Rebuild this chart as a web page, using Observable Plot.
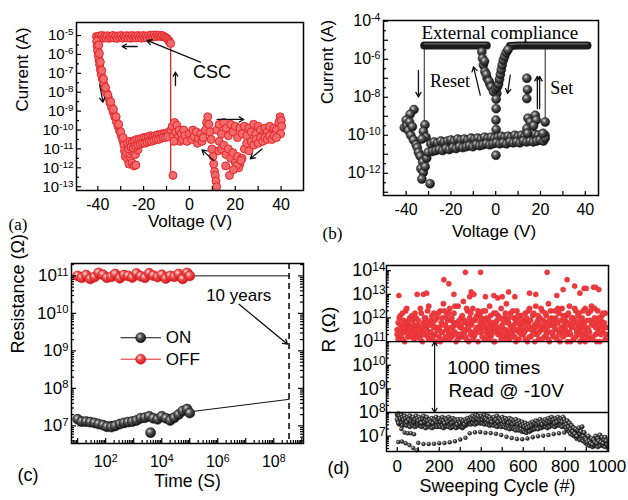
<!DOCTYPE html>
<html><head><meta charset="utf-8">
<script src="https://cdn.jsdelivr.net/npm/d3@7"></script>
<script src="https://cdn.jsdelivr.net/npm/@observablehq/plot@0.6"></script>
<style>
body{margin:0;background:#fff;}
#wrap{position:relative;width:628px;height:500px;background:#fff;overflow:hidden;}
</style></head><body>
<svg width="0" height="0" style="position:absolute"><defs>
<radialGradient id="sphK" cx="0.38" cy="0.34" r="0.66"><stop offset="0" stop-color="#d9d9d9"/><stop offset="0.38" stop-color="#5a5a5a"/><stop offset="1" stop-color="#101010"/></radialGradient>
<radialGradient id="sphR" cx="0.38" cy="0.34" r="0.66"><stop offset="0" stop-color="#ffe2e2"/><stop offset="0.42" stop-color="#f04a4a"/><stop offset="1" stop-color="#d3161b"/></radialGradient>
</defs></svg>
<div id="wrap"></div>
<script>
const FONT = '"Liberation Sans", Arial, Helvetica, sans-serif';
const SERIF = '"Liberation Serif", "Times New Roman", Times, serif';
const RED = "#e3262b";

// ---------------- Panel (a): I-V, [voltage, log10(current)] ----------------
const aXLabels = [-40, -20, 0, 20, 40];
const aXTicks = [-40, -30, -20, -10, 0, 10, 20, 30, 40];
const aYLabels = [1e-13, 1e-12, 1e-11, 1e-10, 1e-9, 1e-8, 1e-7, 1e-6, 1e-5];
const aPoints = [
[-40.6,-5.05],[-40.0,-5.15],[-39.4,-5.02],[-38.8,-5.12],[-38.2,-5.0],[-37.6,-5.14],[-37.0,-5.03],[-36.4,-5.13],[-35.8,-5.01],[-35.2,-5.15],[-34.6,-5.04],[-34.0,-5.12],[-33.4,-5.0],[-32.8,-5.13],[-32.2,-5.03],[-31.6,-5.15],[-31.0,-5.02],[-30.4,-5.12],[-29.8,-5.0],[-29.2,-5.14],[-28.6,-5.03],[-28.0,-5.12],[-27.4,-5.01],[-26.8,-5.13],[-26.2,-5.02],[-25.6,-5.14],[-25.0,-5.0],[-24.4,-5.12],[-23.8,-5.03],[-23.2,-5.13],[-22.6,-5.0],[-22.0,-5.12],[-21.4,-5.02],[-20.8,-5.14],[-20.2,-5.0],[-19.6,-5.11],[-19.0,-5.02],[-18.4,-5.13],[-17.8,-5.0],[-17.2,-5.1],[-16.6,-4.98],[-16.0,-5.08],[-15.4,-4.97],[-14.8,-5.06],[-14.2,-4.97],[-13.6,-5.04],[-13.0,-4.98],[-12.4,-5.05],[-11.8,-5.0],[-11.2,-5.06],[-10.6,-5.08],[-10.0,-5.14],[-9.5,-5.2],[-9.0,-5.27],[-8.6,-5.35],[-8.2,-5.42],
[-40.5,-5.3],[-40.3,-5.55],[-40.1,-5.8],[-39.8,-6.05],[-39.5,-6.3],[-39.2,-6.55],[-38.9,-6.8],[-38.5,-7.05],[-38.0,-7.3],[-37.4,-7.55],[-36.8,-7.8],[-36.1,-8.05],[-35.4,-8.3],[-34.7,-8.55],[-34.0,-8.8],[-33.3,-9.05],[-32.6,-9.3],[-31.9,-9.55],[-31.2,-9.8],[-30.5,-10.05],[-29.8,-10.3],[-29.1,-10.55],
[-39.6,-5.5],[-39.3,-5.95],[-38.9,-6.4],[-38.3,-6.85],[-37.5,-7.3],[-36.6,-7.75],[-35.6,-8.15],[-34.4,-8.5],[-33.2,-8.9],[-32.0,-9.3],[-30.9,-9.7],[-30.0,-10.1],[-28.9,-10.4],
[-28.6,-10.8],[-28.3,-11.1],[-28.0,-11.4],[-27.4,-11.2],[-27.0,-11.55],[-26.4,-11.8],[-25.8,-11.45],[-25.0,-11.75],[-24.2,-11.9],[-23.4,-11.85],[-26.0,-11.25],[-24.8,-11.15],[-23.6,-11.3],[-22.5,-11.05],
[-27,-10.7],[-26,-10.6],[-25,-10.65],[-24,-10.55],[-23,-10.5],[-22,-10.5],[-21,-10.45],[-20,-10.4],[-19,-10.4],[-18,-10.35],[-17,-10.3],[-16,-10.35],[-15,-10.3],[-14,-10.25],[-13,-10.25],[-12,-10.2],[-11,-10.2],[-10,-10.15],[-9,-10.15],
[-26.5,-11.0],[-25.5,-10.9],[-24.5,-10.95],[-23.5,-10.85],[-22.5,-10.8],[-21.5,-10.75],[-20.5,-10.7],[-19.5,-10.7],[-18.5,-10.65],[-17.5,-10.6],[-16.5,-10.6],[-15.5,-10.55],[-14.5,-10.5],[-13.5,-10.5],[-12.5,-10.45],[-11.5,-10.4],[-10.5,-10.4],[-9.5,-10.35],
[-8,-10.0],[-7.5,-9.8],[-7,-10.3],[-6.5,-9.6],[-6,-10.1],[-5.5,-9.75],[-5,-10.4],[-4.5,-10.0],[-4,-10.6],[-3.5,-10.2],[-3,-10.5],[-2.5,-10.0],[-2,-10.3],[-1,-10.6],[0,-10.2],[1,-10.5],[1.5,-10.0],[2,-10.35],[3,-10.1],[3.5,-10.7],[4,-10.45],[5,-10.2],[5.5,-10.6],[6,-10.4],[7,-10.0],[7.5,-9.6],[8,-9.3],[8.5,-9.7],[9,-10.1],[9.5,-10.5],[-6.8,-10.6],
[9.8,-11.0],[10.3,-11.4],[10.6,-11.8],[11.0,-12.2],[11.3,-12.4],[11.6,-12.7],[11.9,-13.0],[12.8,-11.1],
[12,-10.0],[13,-9.7],[14,-10.2],[15,-9.6],[16,-9.9],[17,-10.3],[18,-9.7],[19,-10.1],[20,-9.8],[21,-10.4],[22,-9.9],[23,-10.2],[24,-9.8],[25,-10.3],[26,-9.9],[27,-10.1],[28,-9.7],[29,-10.2],[30,-9.8],[31,-10.0],[32,-10.3],[33,-9.9],[34,-10.1],[35,-9.8],[36,-10.2],[37,-9.9],[38,-10.0],[39,-9.6],[39.6,-9.3],[40.1,-9.5],[40.3,-9.8],[39.8,-10.2],
[13,-10.6],[14,-11.0],[15,-10.8],[16,-11.3],[17,-11.0],[18,-11.5],[19,-11.2],[20,-11.7],[21,-11.4],[22,-11.8],[23,-11.5],[21.5,-12.0],[20.5,-11.9],[22.5,-11.6],[24,-11.0],[25,-10.7],[26,-11.1],[27,-10.6],[28,-10.8],[29,-10.5],[30,-10.7],[31,-10.4],[32,-10.6],[33,-10.4],[34,-10.5],[35,-10.3],[36,-10.5],[37,-10.3],[38,-10.4],
[17.5,-12.4],[15.8,-11.9],[19.2,-12.1],
[-7.2,-12.4]
];
const aSwitchLine = [[-8.2, -5.45, -12.3]];           // [V, log I top, log I bottom]
const aArrows = [                                      // [x1, logy1, x2, logy2]
[4.8,-6.41,-18.5,-5.26],
[-22.8,-5.58,-29.4,-5.58],
[-6.1,-7.65,-6.1,-6.94],
[-39.2,-7.61,-37.7,-8.53],
[12.1,-9.44,23.7,-9.44],
[10.6,-11.61,5.5,-11.05],
[31.7,-11.0,26.6,-11.52]
];
const aLabels = [{x: 9.9, y: -6.94, t: "CSC"}];

// ---------------- Panel (b): I-V, [voltage, log10(current)] ----------------
const bXLabels = [-40, -20, 0, 20, 40];
const bXTicks = [-40, -30, -20, -10, 0, 10, 20, 30, 40];
const bYLabels = [1e-12, 1e-10, 1e-8, 1e-6, 1e-4];
const bCompLeft = [[-31.9,-5.27],[-26,-5.27],[-20,-5.27],[-14,-5.27],[-8,-5.27],[-4.0,-5.27]];
const bCompRight = [[6.4,-5.3],[10,-5.27],[16,-5.27],[22,-5.27],[28,-5.27],[34,-5.27],[41,-5.27]];
const bPoints = [
[-6.2,-5.6],[-5.9,-5.95],[-5.5,-6.3],[-4.8,-6.65],[-3.8,-7.0],[-2.6,-7.3],[-1.4,-7.5],[-0.4,-7.65],[0.5,-7.8],[-5.0,-6.1],[-4.2,-6.8],[-3.0,-7.15],[-2.0,-7.45],[-1.0,-7.7],
[0.0,-7.55],[0.8,-7.45],[1.3,-7.3],[1.7,-7.05],[2.1,-6.8],[2.5,-6.55],[2.9,-6.3],[3.4,-6.05],[4.0,-5.85],[4.7,-5.65],[5.5,-5.5],
[0.2,-8.1],[0.2,-8.6],[0.1,-9.2],[0.2,-9.7],[0.2,-10.35],[0.1,-11.05],
[-36.5,-8.65],[-38.2,-8.9],[-40.0,-9.2],[-40.8,-9.6],[-39.7,-9.5],[-39.0,-9.75],[-37.9,-10.0],[-36.7,-10.25],[-35.5,-10.5],[-38.5,-9.3],[-37.2,-9.55],
[-35.0,-10.65],[-34.5,-10.9],[-33.7,-11.1],[-32.6,-11.4],[-33.4,-11.75],[-32.3,-11.95],[-33.0,-12.3],[-29.3,-12.55],[-31.5,-11.65],[-30.8,-11.2],[-30.2,-10.9],
[-31.6,-9.45],[-32.3,-9.8],[-31.1,-10.1],[-33.0,-10.2],
[-29,-10.45],[-27.5,-10.35],[-26,-10.4],[-24.5,-10.3],[-23,-10.35],[-21.5,-10.3],[-20,-10.25],[-18.5,-10.3],[-17,-10.2],[-15.5,-10.25],[-14,-10.2],[-12.5,-10.25],[-11,-10.15],[-9.5,-10.2],[-8,-10.15],[-6.5,-10.2],[-5,-10.1],[-3.5,-10.15],[-2,-10.1],[-0.5,-10.15],[1,-10.1],[2.5,-10.05],[4,-10.1],[5.5,-10.05],[7,-10.1],[8.5,-10.0],[10,-10.05],[11.5,-10.0],[13,-10.05],[14.5,-10.0],[16,-10.05],[17.5,-9.95],[19,-10.0],[20.5,-10.05],[22,-10.0],
[-28.2,-10.85],[-26.7,-10.8],[-25.2,-10.75],[-23.7,-10.8],[-22.2,-10.7],[-20.7,-10.75],[-19.2,-10.65],[-17.7,-10.7],[-16.2,-10.6],[-14.7,-10.65],[-13.2,-10.6],[-11.7,-10.55],[-10.2,-10.6],[-8.7,-10.5],[-7.2,-10.55],[-5.7,-10.5],[-4.2,-10.45],[-2.7,-10.5],[-1.2,-10.45],[0.3,-10.4],[1.8,-10.45],[3.3,-10.4],[4.8,-10.45],[6.3,-10.35],[7.8,-10.4],[9.3,-10.35],[10.8,-10.4],[12.3,-10.3],[13.8,-10.35],[15.3,-10.3],[16.8,-10.35],[18.3,-10.3],[19.8,-10.25],[21.3,-10.3],
[13.9,-7.0],[14.2,-7.6],[13.9,-8.07],[14.4,-9.1],[15.4,-9.3],[13.9,-9.65],[17.7,-8.95],[18.1,-9.2],[16.9,-9.5],[22.1,-9.3],[22.1,-10.15],[21.1,-9.9],[14.2,-9.9]
];
const bLines = [[-31.9, -5.27, -9.4], [22.1, -5.27, -9.2]];
const bArrows = [
[-34.5,-6.58,-34.5,-7.98],
[-6.9,-7.89,-9.9,-6.4],
[6.5,-6.84,5.3,-7.8],
[18.6,-8.6,18.6,-6.9],
[19.6,-8.6,19.6,-6.9]
];
const bTitle = [{x: 1.8, y: -4.61, t: "External compliance"}];
const bLabels = [{x: -29.3, y: -7.16, t: "Reset"}, {x: 24.4, y: -7.54, t: "Set"}];

// ---------------- Panel (c): retention, time (s) vs resistance (ohm) ----------------
const cTimes = [10,14,20,28,40,56,80,110,160,220,320,450,630,890,1260,1780,2500,3550,5000,7100,10000,14000,20000,28000,40000,56000,80000,100000];
const cOff = [1.0e11,8.9e10,1.05e11,8.3e10,9.3e10,1.2e11,1.07e11,8.9e10,9.5e10,1.12e11,8.7e10,1.05e11,1.0e11,9.1e10,1.15e11,9.8e10,8.9e10,1.17e11,1.02e11,9.3e10,1.07e11,8.5e10,1.0e11,9.5e10,1.12e11,8.3e10,1.2e11,1.0e11];
const cOn = [1.5e7,1.3e7,1.3e7,1.26e7,1.2e7,1.12e7,1.05e7,9.5e6,9.3e6,1.0e7,1.12e7,1.2e7,1.26e7,1.3e7,1.4e7,1.6e7,1.65e7,1.8e7,1.6e7,1.5e7,1.8e7,1.6e7,1.4e7,1.65e7,2.0e7,2.5e7,2.8e7,2.2e7];
const cOnOutlier = [[4000, 6.6e6]];
const cOffFit = [[10, 1.0e11], [3.5e8, 1.0e11]];
const cOnFit = [[10, 1.0e7], [3.5e8, 5.1e7]];
const cTenYears = 3.5e8;
const cXLabels = [1e2, 1e4, 1e6, 1e8];
const cYLabels = [1e7, 1e8, 1e9, 1e10, 1e11];

// ---------------- Panel (d): endurance, cycle vs log10(R) ----------------
const dCycles = [0,5,10,15,20,25,30,35,40,45,50,55,60,65,70,75,80,85,90,95,
100,105,110,115,120,125,130,135,140,145,150,155,160,165,170,175,180,185,190,195,
200,205,210,215,220,225,230,235,240,245,250,255,260,265,270,275,280,285,290,295,
300,305,310,315,320,325,330,335,340,345,350,355,360,365,370,375,380,385,390,395,
400,405,410,415,420,425,430,435,440,445,450,455,460,465,470,475,480,485,490,495,
500,505,510,515,520,525,530,535,540,545,550,555,560,565,570,575,580,585,590,595,
600,605,610,615,620,625,630,635,640,645,650,655,660,665,670,675,680,685,690,695,
700,705,710,715,720,725,730,735,740,745,750,755,760,765,770,775,780,785,790,795,
800,805,810,815,820,825,830,835,840,845,850,855,860,865,870,875,880,885,890,895,
900,905,910,915,920,925,930,935,940,945,950,955,960,965,970,975,980,985,990,995];
const dOffA = [11.3,11.8,11.2,12.1,11.5,11.1,11.9,11.4,12.3,11.6,11.2,11.7,12.0,11.3,11.5,11.9,11.1,12.2,11.6,11.4,
11.7,11.2,12.4,11.5,11.0,11.8,11.3,12.0,11.6,11.2,12.5,11.4,11.9,11.1,11.7,12.2,11.3,11.6,12.0,11.5,
11.2,12.3,11.8,11.4,12.6,11.1,11.7,12.1,11.5,11.3,12.4,11.9,11.2,11.6,12.2,11.4,11.0,11.8,12.5,11.3,
11.6,12.0,11.2,12.7,11.4,11.8,11.1,12.3,11.5,12.0,11.3,11.7,12.4,11.2,11.9,11.5,12.1,11.0,11.6,12.2,
11.4,11.8,12.3,11.1,11.6,12.0,11.3,11.9,12.5,11.2,11.7,11.5,12.2,11.0,11.8,11.4,12.1,11.6,11.3,12.4,
11.7,11.2,12.0,11.5,12.6,11.3,11.8,11.1,12.2,11.6,11.4,12.0,11.2,11.9,12.3,11.5,11.1,11.7,12.1,11.4,
11.3,11.9,12.2,11.5,11.0,11.8,12.4,11.2,11.6,12.1,11.4,11.7,12.5,11.3,11.9,11.1,12.0,11.5,12.3,11.6,
11.2,11.8,12.1,11.4,12.6,11.0,11.7,12.0,11.3,11.9,12.3,11.5,11.1,11.8,12.2,11.4,11.6,12.4,11.2,11.7,
11.5,12.1,11.0,11.8,12.5,11.3,11.6,12.0,11.1,11.9,12.3,11.4,11.7,12.2,11.0,11.5,12.0,11.3,11.8,12.4,
11.6,11.2,12.2,11.4,11.9,12.5,11.1,11.7,12.0,11.3,11.8,12.3,11.5,11.0,11.9,12.1,11.4,11.6,12.2,11.3];
const dOffB = [11.5,11.1,12.0,11.7,11.3,12.2,11.6,11.0,11.8,12.4,11.4,11.9,11.2,11.6,12.1,11.3,11.7,11.5,12.0,11.2,
11.9,11.4,11.1,12.2,11.6,11.3,12.0,11.5,11.8,12.3,11.1,11.7,11.4,12.1,11.2,11.6,11.9,11.0,11.5,12.2,
11.6,11.0,11.4,12.0,11.7,12.3,11.2,11.5,11.9,12.2,11.1,11.6,12.0,11.4,11.8,12.5,11.3,11.7,11.1,11.9,
11.3,11.7,12.1,11.5,11.9,11.2,12.4,11.6,11.0,11.8,12.2,11.4,11.1,11.9,11.3,12.0,11.6,12.3,11.4,11.8,
12.0,11.2,11.6,11.9,12.3,11.4,11.7,11.1,11.5,12.1,11.3,11.8,11.0,11.6,12.2,11.9,11.3,11.5,12.0,11.1,
11.3,11.9,11.5,12.2,11.1,11.8,12.0,11.4,11.6,11.2,12.3,11.7,11.5,11.0,11.8,12.1,11.4,11.9,11.3,11.6,
11.8,11.4,11.1,12.0,11.7,12.3,11.2,11.9,11.5,11.3,12.2,11.0,11.6,11.8,12.1,11.4,11.7,12.4,11.1,11.9,
11.5,12.2,11.3,11.6,11.1,11.9,12.3,11.4,11.7,11.2,11.6,12.0,11.8,12.4,11.3,11.0,11.9,11.5,12.1,11.4,
11.9,11.3,11.7,12.2,11.4,11.0,12.0,11.6,11.8,12.4,11.2,11.5,12.1,11.3,11.9,11.7,11.1,12.3,11.6,11.0,
11.4,11.9,11.5,11.1,12.3,11.7,11.2,11.8,12.4,11.6,11.0,11.4,12.0,11.7,11.3,11.5,12.2,11.8,11.1,11.6];
const dOffOutCycle = [8,95,125,140,222,246,270,325,345,352,365,397,420,460,478,500,530,560,630,660,714,760,790,809,845,870,890,900,935,945,960];
const dOffOutR = [12.95,13.0,13.0,13.05,13.62,13.45,13.0,13.93,12.9,13.1,13.0,13.93,12.9,12.95,12.85,12.9,13.1,12.9,13.05,13.0,13.93,12.95,13.2,13.62,13.35,13.05,13.25,13.25,13.3,13.3,13.2];
const dOnA = [7.9,7.95,7.85,7.75,7.9,7.8,7.7,7.85,7.75,7.6,7.8,7.7,7.85,7.65,7.75,7.8,7.6,7.7,7.85,7.75,
7.65,7.8,7.7,7.55,7.75,7.85,7.6,7.7,7.8,7.65,7.5,7.7,7.6,7.75,7.55,7.7,7.65,7.8,7.6,7.7,
7.75,7.6,7.7,7.8,7.65,7.55,7.75,7.7,7.6,7.8,7.65,7.7,7.55,7.75,7.6,7.7,7.65,7.5,7.7,7.6,
7.55,7.7,7.6,7.65,7.5,7.7,7.6,7.75,7.65,7.7,7.8,7.75,7.85,7.7,7.8,7.9,7.75,7.85,7.7,7.8,
7.85,7.7,7.8,7.9,7.75,7.7,7.85,7.65,7.8,7.7,7.6,7.75,7.8,7.65,7.7,7.85,7.6,7.75,7.7,7.65,
7.8,7.7,7.6,7.75,7.65,7.7,7.55,7.75,7.6,7.7,7.5,7.65,7.55,7.7,7.6,7.5,7.65,7.55,7.45,7.6,
7.5,7.4,7.55,7.45,7.35,7.5,7.4,7.55,7.45,7.6,7.5,7.55,7.65,7.5,7.6,7.55,7.7,7.6,7.5,7.65,
7.6,7.7,7.55,7.65,7.75,7.6,7.7,7.8,7.65,7.7,7.55,7.75,7.6,7.8,7.7,7.65,7.75,7.6,7.8,7.7,
7.6,7.5,7.65,7.4,7.55,7.3,7.45,7.2,7.35,7.1,7.3,7.0,7.25,7.35,7.1,7.2,7.4,7.0,7.15,6.9,
6.85,6.75,7.0,6.8,6.7,6.9,6.65,6.85,6.75,7.0,6.7,6.9,6.8,7.05,6.75,6.95,6.7,6.85,6.95,6.8];
const dOnB = [7.7,7.6,7.5,7.65,7.55,7.45,7.6,7.5,7.55,7.45,7.6,7.5,7.4,7.55,7.5,7.45,7.55,7.4,7.5,7.55,
7.45,7.5,7.55,7.4,7.5,7.45,7.55,7.35,7.5,7.45,7.4,7.5,7.45,7.35,7.5,7.4,7.55,7.45,7.4,7.5,
7.45,7.4,7.5,7.45,7.35,7.5,7.4,7.45,7.55,7.4,7.5,7.35,7.45,7.4,7.5,7.45,7.35,7.5,7.4,7.45,
7.4,7.45,7.35,7.4,7.5,7.45,7.55,7.5,7.6,7.55,7.5,7.6,7.55,7.65,7.5,7.6,7.55,7.65,7.6,7.55,
7.6,7.55,7.65,7.5,7.6,7.55,7.5,7.6,7.45,7.55,7.5,7.6,7.45,7.55,7.5,7.4,7.55,7.45,7.5,7.4,
7.5,7.45,7.4,7.5,7.35,7.45,7.4,7.3,7.45,7.35,7.4,7.3,7.35,7.25,7.4,7.3,7.25,7.35,7.3,7.2,
7.25,7.2,7.3,7.15,7.25,7.3,7.2,7.35,7.25,7.3,7.35,7.3,7.4,7.35,7.3,7.45,7.4,7.35,7.45,7.4,
7.45,7.4,7.5,7.35,7.45,7.4,7.5,7.55,7.45,7.5,7.4,7.5,7.45,7.55,7.5,7.45,7.5,7.4,7.55,7.45,
7.4,7.35,7.25,7.3,7.2,7.1,7.25,7.05,7.15,7.0,7.1,6.9,7.05,6.95,6.85,7.0,6.9,6.8,6.95,6.75,
6.7,6.65,6.8,6.6,6.75,6.65,6.55,6.7,6.6,6.8,6.65,6.55,6.7,6.6,6.75,6.65,6.6,6.7,6.55,6.65];
const dTrackCycle = [5,20,35,50,65,80,
5,22,40,58,76,94,
100,125,150,175,200,225,250,275,300,325,
345,370,395,420,445,470,495,520,545,570,595,620,645,670,695,720,745,770,795];
const dTrackR = [7.55,7.3,7.15,7.12,7.12,7.08,
6.75,6.77,6.7,6.62,6.5,6.4,
6.72,6.67,6.67,6.68,6.7,6.71,6.74,6.78,6.86,6.93,
7.12,7.16,7.18,7.14,7.13,7.1,7.05,6.97,6.92,6.88,6.87,6.9,6.95,6.99,7.02,7.05,7.09,7.12,7.15];
const dWindow = [1e8, 1e11];
const dXLabels = [0, 200, 400, 600, 800, 1000];
const dYLabels = [1e7, 1e8, 1e9, 1e10, 1e11, 1e12, 1e13, 1e14];

// ---------------- helpers ----------------
const pow10 = d => "10^" + Math.round(Math.log10(d));
function decades(lo, hi) { const r = []; for (let n = lo; n <= hi; n++) r.push(10 ** n); return r; }
function halfDecades(lo, hi) { const r = []; for (let n = lo; n < hi; n++) r.push(10 ** (n + 0.5)); return r; }
function logMinors(lo, hi, min, max) { const r = []; for (let n = lo; n <= hi; n++) for (let k = 2; k <= 9; k++) { const v = k * 10 ** n; if (v > min && v < max) r.push(v); } return r; }
function supify(svg) {
  svg.querySelectorAll("text").forEach(t => {
    const m = /^10\^(-?\d+)$/.exec(t.textContent.trim());
    if (!m) return;
    const target = t.querySelector("tspan") || t;
    while (target.firstChild) target.removeChild(target.firstChild);
    target.appendChild(document.createTextNode("10"));
    const s = document.createElementNS("http://www.w3.org/2000/svg", "tspan");
    s.setAttribute("dy", "-0.5em");
    s.setAttribute("font-size", "66%");
    s.textContent = m[1];
    target.appendChild(s);
  });
}
const wrap = document.getElementById("wrap");
function place(svg, left, top) {
  svg.style.position = "absolute";
  svg.style.left = left + "px";
  svg.style.top = top + "px";
  supify(svg);
  wrap.appendChild(svg);
}
const baseStyle = {fontFamily: FONT, background: "transparent", color: "black", overflow: "visible"};
const tk = {stroke: "black", strokeWidth: 1.2};

// ---------------- Panel (a) ----------------
{
  const W = 314, H = 245, mL = 76, mR = 11, mT = 22, mB = 55;
  const fw = W - mL - mR, fh = H - mT - mB;
  const svg = Plot.plot({
    width: W, height: H, marginLeft: mL, marginRight: mR, marginTop: mT, marginBottom: mB,
    style: baseStyle,
    x: {domain: [-49.3, 49.8]},
    y: {type: "log", domain: [10 ** -13.2, 10 ** -4.31]},
    marks: [
      Plot.ruleX(aSwitchLine, {x: d => d[0], y1: d => 10 ** d[1], y2: d => 10 ** d[2], stroke: RED, strokeWidth: 1.3}),
      Plot.dot(aPoints, {x: d => d[0], y: d => 10 ** d[1], r: 4, fill: "#f26a6a", stroke: RED, strokeWidth: 1}),
      Plot.arrow(aArrows, {x1: d => d[0], y1: d => 10 ** d[1], x2: d => d[2], y2: d => 10 ** d[3], stroke: "#111", strokeWidth: 1.3, headLength: 6}),
      Plot.text(aLabels, {x: "x", y: d => 10 ** d.y, text: "t", fontSize: 18}),
      Plot.frame({stroke: "black", strokeWidth: 1.5}),
      Plot.tickX(aXTicks, {x: d => d, insetTop: fh - 4, ...tk}),
      Plot.tickY(decades(-13, -5), {y: d => d, insetRight: fw - 5, ...tk}),
      Plot.tickY(halfDecades(-13, -5), {y: d => d, insetRight: fw - 3, ...tk}),
      Plot.axisX(aXLabels, {tickSize: 0, tickPadding: 8, tickFormat: d => String(d), fontSize: 16, label: null}),
      Plot.axisY(aYLabels, {tickSize: 0, tickPadding: 3, tickFormat: pow10, fontSize: 15, label: null}),
      Plot.text(["Voltage (V)"], {frameAnchor: "bottom", dy: 36, text: d => d, fontSize: 17}),
      Plot.text(["Current (A)"], {frameAnchor: "left", dx: -54, dy: 5, rotate: -90, text: d => d, fontSize: 17}),
      Plot.text(["(a)"], {frameAnchor: "bottom-left", dx: -68, dy: 39, textAnchor: "start", text: d => d, fontFamily: SERIF, fontSize: 17})
    ]
  });
  place(svg, 0, 0);
}

// ---------------- Panel (b) ----------------
{
  const W = 314, H = 245, mL = 69, mR = 30, mT = 20, mB = 50;
  const fw = W - mL - mR, fh = H - mT - mB;
  const svg = Plot.plot({
    width: W, height: H, marginLeft: mL, marginRight: mR, marginTop: mT, marginBottom: mB,
    style: baseStyle,
    x: {domain: [-50.1, 45.9]},
    y: {type: "log", domain: [10 ** -13.17, 10 ** -3.96]},
    marks: [
      Plot.ruleX(bLines, {x: d => d[0], y1: d => 10 ** d[1], y2: d => 10 ** d[2], stroke: "#222", strokeWidth: 1}),
      Plot.line(bCompLeft, {x: d => d[0], y: d => 10 ** d[1], stroke: "#1b1b1b", strokeWidth: 8, strokeLinecap: "round"}),
      Plot.line(bCompRight, {x: d => d[0], y: d => 10 ** d[1], stroke: "#1b1b1b", strokeWidth: 8, strokeLinecap: "round"}),
      Plot.line(bCompLeft, {x: d => d[0], y: d => 10 ** d[1], stroke: "#6a6a6a", strokeWidth: 1.4, dy: -1.5}),
      Plot.line(bCompRight, {x: d => d[0], y: d => 10 ** d[1], stroke: "#6a6a6a", strokeWidth: 1.4, dy: -1.5}),
      Plot.dot(bPoints, {x: d => d[0], y: d => 10 ** d[1], r: 4.5, fill: "url(#sphK)", stroke: "#151515", strokeWidth: 0.5}),
      Plot.arrow(bArrows, {x1: d => d[0], y1: d => 10 ** d[1], x2: d => d[2], y2: d => 10 ** d[3], stroke: "#111", strokeWidth: 1.3, headLength: 6}),
      Plot.text(bTitle, {x: "x", y: d => 10 ** d.y, text: "t", textAnchor: "middle", fontSize: 19, fontFamily: SERIF}),
      Plot.text(bLabels, {x: "x", y: d => 10 ** d.y, text: "t", textAnchor: "start", fontSize: 18, fontFamily: SERIF}),
      Plot.frame({stroke: "black", strokeWidth: 1.5}),
      Plot.tickX(bXTicks, {x: d => d, insetTop: fh - 4, ...tk}),
      Plot.tickY(decades(-13, -4), {y: d => d, insetRight: fw - 5, ...tk}),
      Plot.tickY(halfDecades(-13, -4), {y: d => d, insetRight: fw - 3, ...tk}),
      Plot.axisX(bXLabels, {tickSize: 0, tickPadding: 8, tickFormat: d => String(d), fontSize: 16, label: null}),
      Plot.axisY(bYLabels, {tickSize: 0, tickPadding: 3, tickFormat: pow10, fontSize: 16, label: null}),
      Plot.text(["Voltage (V)"], {frameAnchor: "bottom", dx: 3, dy: 41, text: d => d, fontSize: 17}),
      Plot.text(["Current (A)"], {frameAnchor: "left", dx: -56, dy: -4, rotate: -90, text: d => d, fontSize: 17}),
      Plot.text(["(b)"], {frameAnchor: "bottom-left", dx: -61, dy: 43, textAnchor: "start", text: d => d, fontFamily: SERIF, fontSize: 17})
    ]
  });
  place(svg, 314, 0);
}

// ---------------- Panel (c) ----------------
{
  const W = 314, H = 255, mL = 71, mR = 11, mT = 18, mB = 57;
  const fw = W - mL - mR, fh = H - mT - mB;
  const xMin = 10 ** 0.78, xMax = 10 ** 9.06, yMin = 10 ** 6.53, yMax = 10 ** 11.33;
  const offData = cTimes.map((t, i) => ({t, r: cOff[i]}));
  const onData = cTimes.map((t, i) => ({t, r: cOn[i]}));
  const svg = Plot.plot({
    width: W, height: H, marginLeft: mL, marginRight: mR, marginTop: mT, marginBottom: mB,
    style: baseStyle,
    x: {type: "log", domain: [xMin, xMax]},
    y: {type: "log", domain: [yMin, yMax]},
    marks: [
      Plot.ruleX([cTenYears], {x: d => d, stroke: "#111", strokeWidth: 1.6, strokeDasharray: "6,4"}),
      Plot.line(cOffFit, {x: d => d[0], y: d => d[1], stroke: "#111", strokeWidth: 1}),
      Plot.line(cOnFit, {x: d => d[0], y: d => d[1], stroke: "#111", strokeWidth: 1}),
      Plot.line(offData, {x: "t", y: "r", stroke: RED, strokeWidth: 1}),
      Plot.line(onData, {x: "t", y: "r", stroke: "#111", strokeWidth: 1}),
      Plot.dot(offData, {x: "t", y: "r", r: 5, fill: "url(#sphR)", stroke: "#d01a1f", strokeWidth: 0.6}),
      Plot.dot(onData, {x: "t", y: "r", r: 5, fill: "url(#sphK)", stroke: "#151515", strokeWidth: 0.6}),
      Plot.dot(cOnOutlier, {x: d => d[0], y: d => d[1], r: 5, fill: "url(#sphK)", stroke: "#151515", strokeWidth: 0.6}),
      Plot.line([[350, 2.24e9], [9100, 2.24e9]], {x: d => d[0], y: d => d[1], stroke: "#111", strokeWidth: 1}),
      Plot.line([[350, 6.0e8], [9100, 6.0e8]], {x: d => d[0], y: d => d[1], stroke: RED, strokeWidth: 1}),
      Plot.dot([[1780, 2.24e9]], {x: d => d[0], y: d => d[1], r: 5, fill: "url(#sphK)", stroke: "#151515", strokeWidth: 0.6}),
      Plot.dot([[1780, 6.0e8]], {x: d => d[0], y: d => d[1], r: 5, fill: "url(#sphR)", stroke: "#d01a1f", strokeWidth: 0.6}),
      Plot.text([{x: 14000, y: 2.24e9, t: "ON"}, {x: 14000, y: 6.0e8, t: "OFF"}], {x: "x", y: "y", text: "t", textAnchor: "start", fontSize: 17}),
      Plot.text([{x: 5.6e6, y: 2.95e10, t: "10 years"}], {x: "x", y: "y", text: "t", fontSize: 17}),
      Plot.arrow([[5.75e6, 1.74e10, 3.1e8, 1.51e9]], {x1: d => d[0], y1: d => d[1], x2: d => d[2], y2: d => d[3], stroke: "#111", strokeWidth: 1.3, headLength: 6}),
      Plot.frame({stroke: "black", strokeWidth: 1.5}),
      Plot.tickX(decades(1, 9), {x: d => d, insetTop: fh - 5, ...tk}),
      Plot.tickX(logMinors(0, 8, xMin, xMax), {x: d => d, insetTop: fh - 3, ...tk}),
      Plot.tickY(decades(7, 11), {y: d => d, insetRight: fw - 5, ...tk}),
      Plot.tickY(logMinors(6, 11, yMin, yMax), {y: d => d, insetRight: fw - 3, ...tk}),
      Plot.tickY(decades(7, 11), {y: d => d, insetLeft: fw - 5, ...tk}),
      Plot.tickY(logMinors(6, 11, yMin, yMax), {y: d => d, insetLeft: fw - 3, ...tk}),
      Plot.axisX(cXLabels, {tickSize: 0, tickPadding: 12, tickFormat: pow10, fontSize: 16, label: null}),
      Plot.axisY(cYLabels, {tickSize: 0, tickPadding: 3, tickFormat: pow10, fontSize: 17, label: null}),
      Plot.text(["Time (S)"], {frameAnchor: "bottom", dy: 43, text: d => d, fontSize: 17.5}),
      Plot.text(["Resistance (Ω)"], {frameAnchor: "left", dx: -53, rotate: -90, text: d => d, fontSize: 18}),
      Plot.text(["(c)"], {frameAnchor: "bottom-left", dx: -54, dy: 37, textAnchor: "start", text: d => d, fontSize: 18})
    ]
  });
  place(svg, 0, 245);
}

// ---------------- Panel (d) ----------------
{
  const W = 314, H = 255, mL = 72, mR = 20, mT = 20, mB = 49;
  const fw = W - mL - mR, fh = H - mT - mB;
  const yMin = 10 ** 6.35, yMax = 10 ** 14.22;
  const xt = []; for (let c = 0; c <= 1000; c += 100) xt.push(c);
  const svg = Plot.plot({
    width: W, height: H, marginLeft: mL, marginRight: mR, marginTop: mT, marginBottom: mB,
    style: baseStyle,
    x: {domain: [-51, 1006]},
    y: {type: "log", domain: [yMin, yMax]},
    marks: [
      Plot.dot(dCycles, {x: d => d, y: (d, i) => 10 ** dOffA[i], r: 2.7, fill: "#ec3a3e", stroke: "#e02a2e", strokeWidth: 0.4}),
      Plot.dot(dCycles, {x: d => d, y: (d, i) => 10 ** dOffB[i], r: 2.7, fill: "#ec3a3e", stroke: "#e02a2e", strokeWidth: 0.4}),
      Plot.dot(dOffOutCycle, {x: d => d, y: (d, i) => 10 ** dOffOutR[i], r: 2.6, fill: "#ec3a3e", stroke: "#e02a2e", strokeWidth: 0.4}),
      Plot.dot(dCycles, {x: d => d, y: (d, i) => 10 ** dOnB[i], r: 2.3, fill: "url(#sphK)", stroke: "#111", strokeWidth: 0.4}),
      Plot.dot(dCycles, {x: d => d, y: (d, i) => 10 ** dOnA[i], r: 2.3, fill: "url(#sphK)", stroke: "#111", strokeWidth: 0.4}),
      Plot.dot(dTrackCycle, {x: d => d, y: (d, i) => 10 ** dTrackR[i], r: 2.0, fill: "url(#sphK)", stroke: "#111", strokeWidth: 0.4}),
      Plot.ruleY(dWindow, {y: d => d, stroke: "black", strokeWidth: 1.4}),
      Plot.arrow([[178, 3.2e9, 178, 1.0e11], [178, 3.2e9, 178, 1.0e8]], {x1: d => d[0], y1: d => d[1], x2: d => d[2], y2: d => d[3], stroke: "#111", strokeWidth: 1.2, headLength: 6}),
      Plot.text([{x: 238, y: 10 ** 9.9, t: "1000 times"}, {x: 244, y: 10 ** 8.9, t: "Read @ -10V"}], {x: "x", y: "y", text: "t", textAnchor: "start", fontSize: 19}),
      Plot.frame({stroke: "black", strokeWidth: 1.5}),
      Plot.tickX(xt, {x: d => d, insetTop: fh - 4, ...tk}),
      Plot.tickY(decades(7, 14), {y: d => d, insetRight: fw - 5, ...tk}),
      Plot.tickY(logMinors(6, 13, yMin, yMax), {y: d => d, insetRight: fw - 3, ...tk}),
      Plot.axisX(dXLabels, {tickSize: 0, tickPadding: 8, tickFormat: d => String(d), fontSize: 17, label: null}),
      Plot.axisY(dYLabels, {tickSize: 0, tickPadding: 1, tickFormat: pow10, fontSize: 18, label: null}),
      Plot.text(["Sweeping Cycle (#)"], {frameAnchor: "bottom", dy: 40, text: d => d, fontSize: 18}),
      Plot.text(["R (Ω)"], {frameAnchor: "left", dx: -58, dy: -6, rotate: -90, text: d => d, fontSize: 19}),
      Plot.text(["(d)"], {frameAnchor: "bottom-left", dx: -59, dy: 22, textAnchor: "start", text: d => d, fontSize: 18})
    ]
  });
  place(svg, 314, 245);
}
</script>
</body></html>
